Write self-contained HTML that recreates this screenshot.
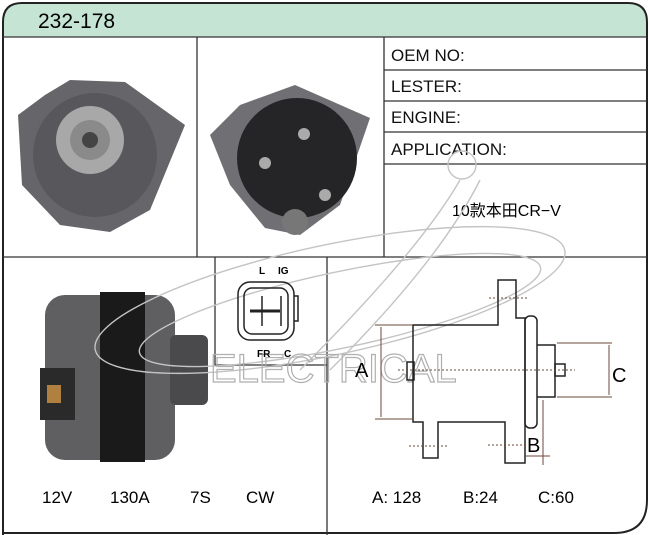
<!DOCTYPE html><html><head><style>body{margin:0;background:#fff}svg{display:block}text{font-family:"Liberation Sans","Noto Sans CJK SC",sans-serif}</style></head><body>
<svg width="650" height="535" viewBox="0 0 650 535">
<path d="M3,37 V22 Q3,3 22,3 H628 Q647,3 647,22 V37 Z" fill="#c6e4d4"/>
<path d="M3,535 V22 Q3,3 22,3 H628 Q647,3 647,22 V500 Q647,533 614,533 H3" fill="none" stroke="#222" stroke-width="2"/>
<g stroke="#333" stroke-width="1.3" fill="none">
<line x1="3" y1="37" x2="647" y2="37"/>
<line x1="197" y1="37" x2="197" y2="257"/>
<line x1="384" y1="37" x2="384" y2="257"/>
<line x1="384" y1="70" x2="647" y2="70"/>
<line x1="384" y1="101" x2="647" y2="101"/>
<line x1="384" y1="132" x2="647" y2="132"/>
<line x1="384" y1="164" x2="647" y2="164"/>
<line x1="3" y1="257" x2="647" y2="257"/>
<line x1="327" y1="257" x2="327" y2="535"/>
<path d="M215,257 V365 H327"/>
</g>
<text x="38" y="28" font-size="21">232-178</text>
<g font-size="17" fill="#111"><text x="391" y="61">OEM NO:</text><text x="391" y="92">LESTER:</text><text x="391" y="123">ENGINE:</text><text x="391" y="155">APPLICATION:</text></g>
<text x="452" y="216" font-size="16">10款本田CR−V</text>
<!-- photo 1 -->
<path d="M18,115 L45,95 L70,80 L125,82 L185,125 L150,210 L110,232 L60,225 L22,185 Z" fill="#66666a"/>
<circle cx="95" cy="155" r="62" fill="#58585c"/>
<circle cx="90" cy="140" r="34" fill="#a8a8a8"/><circle cx="90" cy="140" r="20" fill="#8a8a8a"/><circle cx="90" cy="140" r="8" fill="#444"/>
<!-- photo 2 -->
<path d="M210,135 L240,105 L295,85 L370,118 L340,205 L300,235 L265,228 L230,185 Z" fill="#707074"/>
<circle cx="297" cy="158" r="60" fill="#252527"/>
<circle cx="295" cy="222" r="13" fill="#777"/>
<circle cx="265" cy="163" r="6" fill="#aaa"/><circle cx="304" cy="134" r="6" fill="#aaa"/><circle cx="325" cy="195" r="6" fill="#aaa"/>
<!-- photo 3 -->
<rect x="45" y="295" width="130" height="165" rx="20" fill="#5f5f62"/>
<rect x="100" y="292" width="45" height="170" fill="#1a1a1a"/>
<rect x="170" y="335" width="38" height="70" rx="6" fill="#4a4a4c"/>
<rect x="40" y="368" width="35" height="52" fill="#2a2a2a"/>
<rect x="47" y="385" width="14" height="18" fill="#b08040"/>
<!-- watermark -->
<g stroke="#c4c4c4" fill="none" stroke-width="1.4"><ellipse cx="330" cy="300" rx="240" ry="55" transform="rotate(-12 330 300)"/><ellipse cx="340" cy="310" rx="205" ry="38" transform="rotate(-12 340 310)"/><path d="M300,370 Q420,250 460,180"/><path d="M330,370 Q440,260 480,180"/><circle cx="462" cy="165" r="14"/></g>
<text x="210" y="382" font-size="40" fill="none" stroke="#b0b0b0" stroke-width="1.2">ELECTRICAL</text>
<g font-size="17"><text x="42" y="503">12V</text><text x="110" y="503">130A</text><text x="190" y="503">7S</text><text x="246" y="503">CW</text>
<text x="372" y="503">A: 128</text><text x="463" y="503">B:24</text><text x="538" y="503">C:60</text></g>
<!-- connector -->
<g stroke="#222" stroke-width="1.5" fill="none">
<rect x="238" y="282" width="56" height="58" rx="12"/><rect x="244" y="288" width="44" height="46" rx="8"/>
<line x1="250" y1="311" x2="280" y2="311" stroke-width="3"/><line x1="262" y1="296" x2="262" y2="326"/><line x1="281" y1="296" x2="281" y2="326"/>
<path d="M294,296 h4 v25 h-4"/>
</g>
<g font-size="10" font-weight="bold"><text x="259" y="274">L</text><text x="278" y="274">IG</text><text x="257" y="357">FR</text><text x="284" y="357">C</text></g>
<!-- drawing -->
<g stroke="#222" stroke-width="1.5" fill="none">
<path d="M413,325 H498 V280 H516 V318 H525 V463 H505 V422 H438 V458 H423 V422 H413 Z"/>
<rect x="525" y="316" width="12" height="112" rx="5"/>
<path d="M537,345 H555 V397 H537"/>
<rect x="555" y="364" width="10" height="12"/>
<rect x="407" y="362" width="7" height="18"/>
</g>
<g stroke="#6a4a3a" stroke-width="1"><line x1="375" y1="325" x2="413" y2="325"/><line x1="375" y1="419" x2="413" y2="419"/><line x1="381" y1="327" x2="381" y2="417"/>
<line x1="557" y1="343" x2="612" y2="343"/><line x1="557" y1="397" x2="612" y2="397"/><line x1="609" y1="345" x2="609" y2="395"/>
<line x1="543" y1="400" x2="543" y2="465"/><line x1="525" y1="456" x2="550" y2="456"/></g>
<g stroke="#6a4a3a" stroke-dasharray="2,2"><line x1="489" y1="298" x2="527" y2="298"/><line x1="398" y1="370" x2="575" y2="370"/><line x1="409" y1="446" x2="448" y2="446"/><line x1="488" y1="445" x2="525" y2="445"/></g>
<g font-size="20"><text x="355" y="377">A</text><text x="612" y="382">C</text><text x="527" y="452">B</text></g>
</svg></body></html>
